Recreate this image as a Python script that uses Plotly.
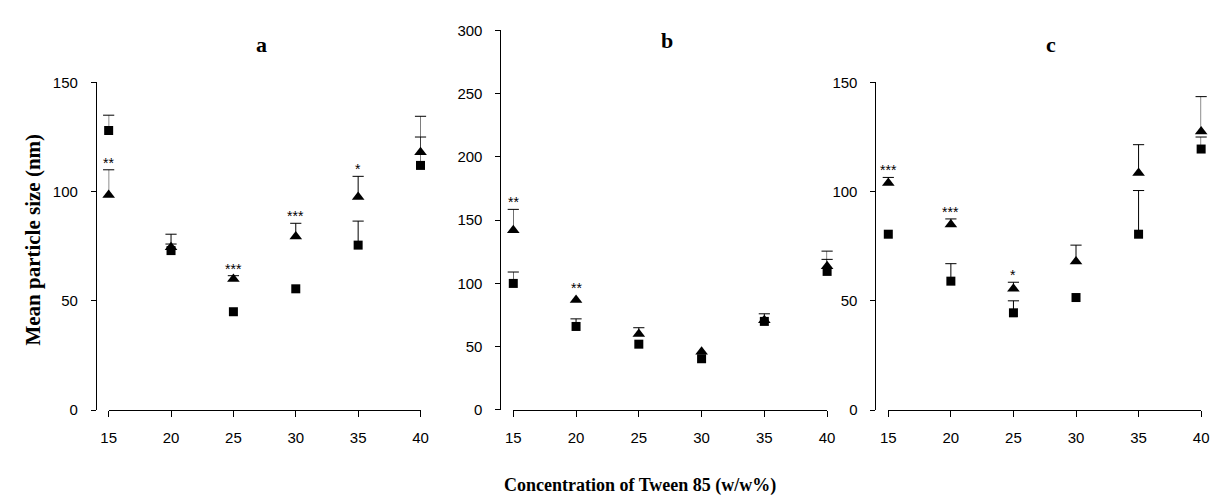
import plotly.graph_objects as go

W, H = 1220, 504

conc = [15, 20, 25, 30, 35, 40]

# Panel a
a_sq = [128, 73, 45, 55.5, 75.5, 112]
a_sq_top = [135, 76, None, None, 86.5, 125]
a_tri = [98.5, 74.5, 60, 79.5, 97.5, 118]
a_tri_top = [110, 80.5, 61.5, 85.5, 107, 134.5]
a_sig = ["**", "", "***", "***", "*", ""]

# Panel b
b_sq = [100, 66, 52, 40.5, 70, 109.5]
b_sq_top = [109, 72, None, None, 76, 119]
b_tri = [142, 87, 60, 46, 71, 113.5]
b_tri_top = [158.5, None, 65, None, None, 125.5]
b_sig = ["**", "**", "", "", "", ""]

# Panel c
c_sq = [80.5, 59, 44.5, 51.5, 80.5, 119.5]
c_sq_top = [None, 67, 50, None, 100.5, 125]
c_tri = [104, 85, 55.5, 68, 108.5, 127.5]
c_tri_top = [106.5, 87.5, 58.5, 75.5, 121.5, 143.5]
c_sig = ["***", "***", "*", "", "", ""]

x_ticks = [15, 20, 25, 30, 35, 40]
y_ticks_ac = [0, 50, 100, 150]
y_ticks_b = [0, 50, 100, 150, 200, 250, 300]
panel_labels = ["a", "b", "c"]

panels = [
    dict(sq=a_sq, sqt=a_sq_top, tri=a_tri, trit=a_tri_top, sig=a_sig,
         xdom=(102, 418), yaxpos=89, ytop=76, ymax=150, yt=y_ticks_ac, lab=(257, 37)),
    dict(sq=b_sq, sqt=b_sq_top, tri=b_tri, trit=b_tri_top, sig=b_sig,
         xdom=(512, 830), yaxpos=499, ytop=22, ymax=300, yt=y_ticks_b, lab=(668, 33)),
    dict(sq=c_sq, sqt=c_sq_top, tri=c_tri, trit=c_tri_top, sig=c_sig,
         xdom=(892, 1209), yaxpos=879, ytop=76, ymax=150, yt=y_ticks_ac, lab=(1057, 37)),
]

YBOT = 415
tickfont = dict(family="Liberation Sans, Arial", size=15, color="black")
serif = "Liberation Serif, Times New Roman"

fig = go.Figure()
annotations = []
layout = {}

for i, p in enumerate(panels):
    n = "" if i == 0 else str(i + 1)
    xa, ya = "x" + n, "y" + n

    # error bar stems and caps (upper only)
    ex, ey, cx, cy = [], [], [], []
    for vals, tops in ((p["sq"], p["sqt"]), (p["tri"], p["trit"])):
        for xv, v, t in zip(conc, vals, tops):
            if t is None:
                continue
            ex += [xv, xv, None]
            ey += [v, t, None]
            cx.append(xv)
            cy.append(t)
    fig.add_trace(go.Scatter(x=ex, y=ey, mode="lines", xaxis=xa, yaxis=ya,
                             line=dict(color="black", width=1), showlegend=False,
                             hoverinfo="skip", cliponaxis=False))
    fig.add_trace(go.Scatter(x=cx, y=cy, mode="markers", xaxis=xa, yaxis=ya,
                             marker=dict(symbol="line-ew", size=8,
                                         line=dict(color="black", width=1)),
                             showlegend=False, hoverinfo="skip", cliponaxis=False))
    fig.add_trace(go.Scatter(x=conc, y=p["sq"], mode="markers", xaxis=xa, yaxis=ya,
                             marker=dict(symbol="square", size=9, color="black"),
                             showlegend=False, cliponaxis=False))
    fig.add_trace(go.Scatter(x=conc, y=p["tri"], mode="markers", xaxis=xa, yaxis=ya,
                             marker=dict(symbol="triangle-up", size=11, color="black"),
                             showlegend=False, cliponaxis=False))

    for xv, v, t, s in zip(conc, p["tri"], p["trit"], p["sig"]):
        if not s:
            continue
        base = t if t is not None else v
        annotations.append(dict(x=xv, y=base, xref=xa, yref=ya, text=s,
                                showarrow=False, yanchor="middle",
                                yshift=7 if t is not None else 12,
                                font=dict(family="Liberation Sans, Arial", size=14, color="black")))

    layout["xaxis" + n] = dict(
        domain=[p["xdom"][0] / W, p["xdom"][1] / W], range=[15, 40], anchor=ya,
        showline=True, linecolor="black", linewidth=1, ticks="outside", ticklen=6,
        tickcolor="black", tickvals=x_ticks, showgrid=False, zeroline=False,
        tickfont=tickfont, ticklabelstandoff=8)
    layout["yaxis" + n] = dict(
        domain=[1 - YBOT / H, 1 - p["ytop"] / H], range=[0, p["ymax"]], anchor="free",
        position=p["yaxpos"] / W, showline=True, linecolor="black", linewidth=1,
        ticks="outside", ticklen=5, tickcolor="black", tickvals=p["yt"],
        showgrid=False, zeroline=False, tickfont=tickfont, ticklabelstandoff=10)

    annotations.append(dict(x=p["lab"][0] / W, y=1 - p["lab"][1] / H, xref="paper",
                            yref="paper", text="<b>%s</b>" % panel_labels[i],
                            showarrow=False, xanchor="center", yanchor="middle",
                            font=dict(family=serif, size=22, color="black")))

annotations.append(dict(x=25 / W, y=1 - 239 / H, xref="paper", yref="paper",
                        text="<b>Mean particle size (nm)</b>", textangle=-90,
                        showarrow=False, xanchor="center", yanchor="middle",
                        font=dict(family=serif, size=21, color="black")))
annotations.append(dict(x=640 / W, y=1 - 493 / H, xref="paper", yref="paper",
                        text="<b>Concentration of Tween 85 (w/w%)</b>",
                        showarrow=False, xanchor="center", yanchor="middle",
                        font=dict(family=serif, size=18, color="black")))

fig.update_layout(width=W, height=H, margin=dict(l=0, r=0, t=0, b=0),
                  paper_bgcolor="white", plot_bgcolor="white",
                  annotations=annotations, **layout)

fig.write_html("out.html")
